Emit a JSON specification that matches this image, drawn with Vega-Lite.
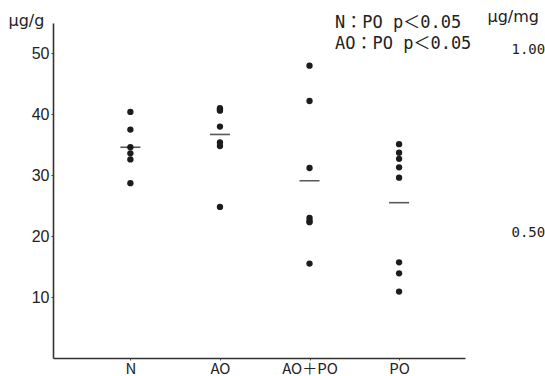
{
  "$schema": "https://vega.github.io/schema/vega-lite/v6.json",
  "width": 412,
  "height": 335,
  "autosize": "none",
  "padding": {"left": 53, "top": 23, "right": 80, "bottom": 18},
  "background": "white",
  "config": {"view": {"stroke": null}, "font": "Liberation Sans"},
  "title": {
    "text": ["N：PO   p＜0.05", "AO：PO p＜0.05"],
    "anchor": "end",
    "align": "left",
    "frame": "group",
    "orient": "top",
    "offset": -45,
    "dx": -130,
    "font": "'DejaVu Sans Mono', 'Noto Sans CJK JP'",
    "fontSize": 17,
    "fontWeight": "normal",
    "lineHeight": 21,
    "color": "#222"
  },
  "datasets": {
    "pts": [
      {"group": "N", "value": 40.4},
      {"group": "N", "value": 37.5},
      {"group": "N", "value": 34.6},
      {"group": "N", "value": 33.6},
      {"group": "N", "value": 32.6},
      {"group": "N", "value": 28.7},
      {"group": "AO", "value": 40.6},
      {"group": "AO", "value": 40.8},
      {"group": "AO", "value": 41.0},
      {"group": "AO", "value": 38.0},
      {"group": "AO", "value": 35.4},
      {"group": "AO", "value": 34.8},
      {"group": "AO", "value": 24.8},
      {"group": "AO＋PO", "value": 48.0},
      {"group": "AO＋PO", "value": 42.2},
      {"group": "AO＋PO", "value": 31.2},
      {"group": "AO＋PO", "value": 23.0},
      {"group": "AO＋PO", "value": 22.5},
      {"group": "AO＋PO", "value": 22.3},
      {"group": "AO＋PO", "value": 15.5},
      {"group": "PO", "value": 35.1},
      {"group": "PO", "value": 33.7},
      {"group": "PO", "value": 32.7},
      {"group": "PO", "value": 31.3},
      {"group": "PO", "value": 29.6},
      {"group": "PO", "value": 15.7},
      {"group": "PO", "value": 13.9},
      {"group": "PO", "value": 10.9}
    ],
    "means": [
      {"group": "N", "value": 34.6},
      {"group": "AO", "value": 36.7},
      {"group": "AO＋PO", "value": 29.1},
      {"group": "PO", "value": 25.5}
    ],
    "right": [
      {"ratio": 0.5},
      {"ratio": 1.0}
    ]
  },
  "layer": [
    {
      "encoding": {
        "x": {
          "field": "group",
          "type": "nominal",
          "sort": ["N", "AO", "AO＋PO", "PO"],
          "scale": {"type": "point", "padding": 0.8, "align": 0.54},
          "axis": {
            "title": null,
            "labelAngle": 0,
            "labelFontSize": 15,
            "labelColor": "#222",
            "labelPadding": 1,
            "domainColor": "#333",
            "domainWidth": 1.6,
            "tickColor": "#555",
            "tickSize": 2,
            "labelFont": "Noto Sans CJK JP"
          }
        },
        "y": {
          "field": "value",
          "type": "quantitative",
          "scale": {"domain": [0, 55], "nice": false, "zero": true},
          "axis": {
            "values": [10, 20, 30, 40, 50],
            "grid": false,
            "title": "μg/g",
            "titleFont": "DejaVu Sans",
            "titleAngle": 0,
            "titleAlign": "left",
            "titleBaseline": "alphabetic",
            "titleX": -45,
            "titleY": 2,
            "titleFontSize": 16,
            "titleFontWeight": "normal",
            "titleColor": "#222",
            "labelFontSize": 16,
            "labelColor": "#222",
            "labelPadding": 2,
            "tickSize": 2,
            "tickColor": "#444",
            "domainColor": "#333",
            "domainWidth": 1.6
          }
        }
      },
      "layer": [
        {
          "data": {"name": "pts"},
          "mark": {"type": "circle", "size": 40, "color": "#1c1c1c", "opacity": 1}
        },
        {
          "data": {"name": "means"},
          "mark": {"type": "tick", "size": 20, "thickness": 1.6, "color": "#111", "orient": "horizontal"}
        }
      ]
    },
    {
      "data": {"name": "right"},
      "mark": {"type": "point", "opacity": 0},
      "encoding": {
        "y": {
          "field": "ratio",
          "type": "quantitative",
          "scale": {"domain": [0.154, 1.074], "nice": false, "zero": false},
          "axis": {
            "orient": "right",
            "values": [0.5, 1.0],
            "format": ".2f",
            "grid": false,
            "domain": false,
            "ticks": false,
            "labelPadding": 46,
            "labelFont": "DejaVu Sans Mono",
            "labelFontSize": 14,
            "labelColor": "#222",
            "title": "μg/mg",
            "titleFont": "DejaVu Sans",
            "titleAngle": 0,
            "titleAlign": "left",
            "titleBaseline": "alphabetic",
            "titleX": 22,
            "titleY": -2,
            "titleFontSize": 16,
            "titleFontWeight": "normal",
            "titleColor": "#222"
          }
        }
      }
    }
  ],
  "resolve": {"scale": {"y": "independent"}, "axis": {"y": "independent"}}
}
